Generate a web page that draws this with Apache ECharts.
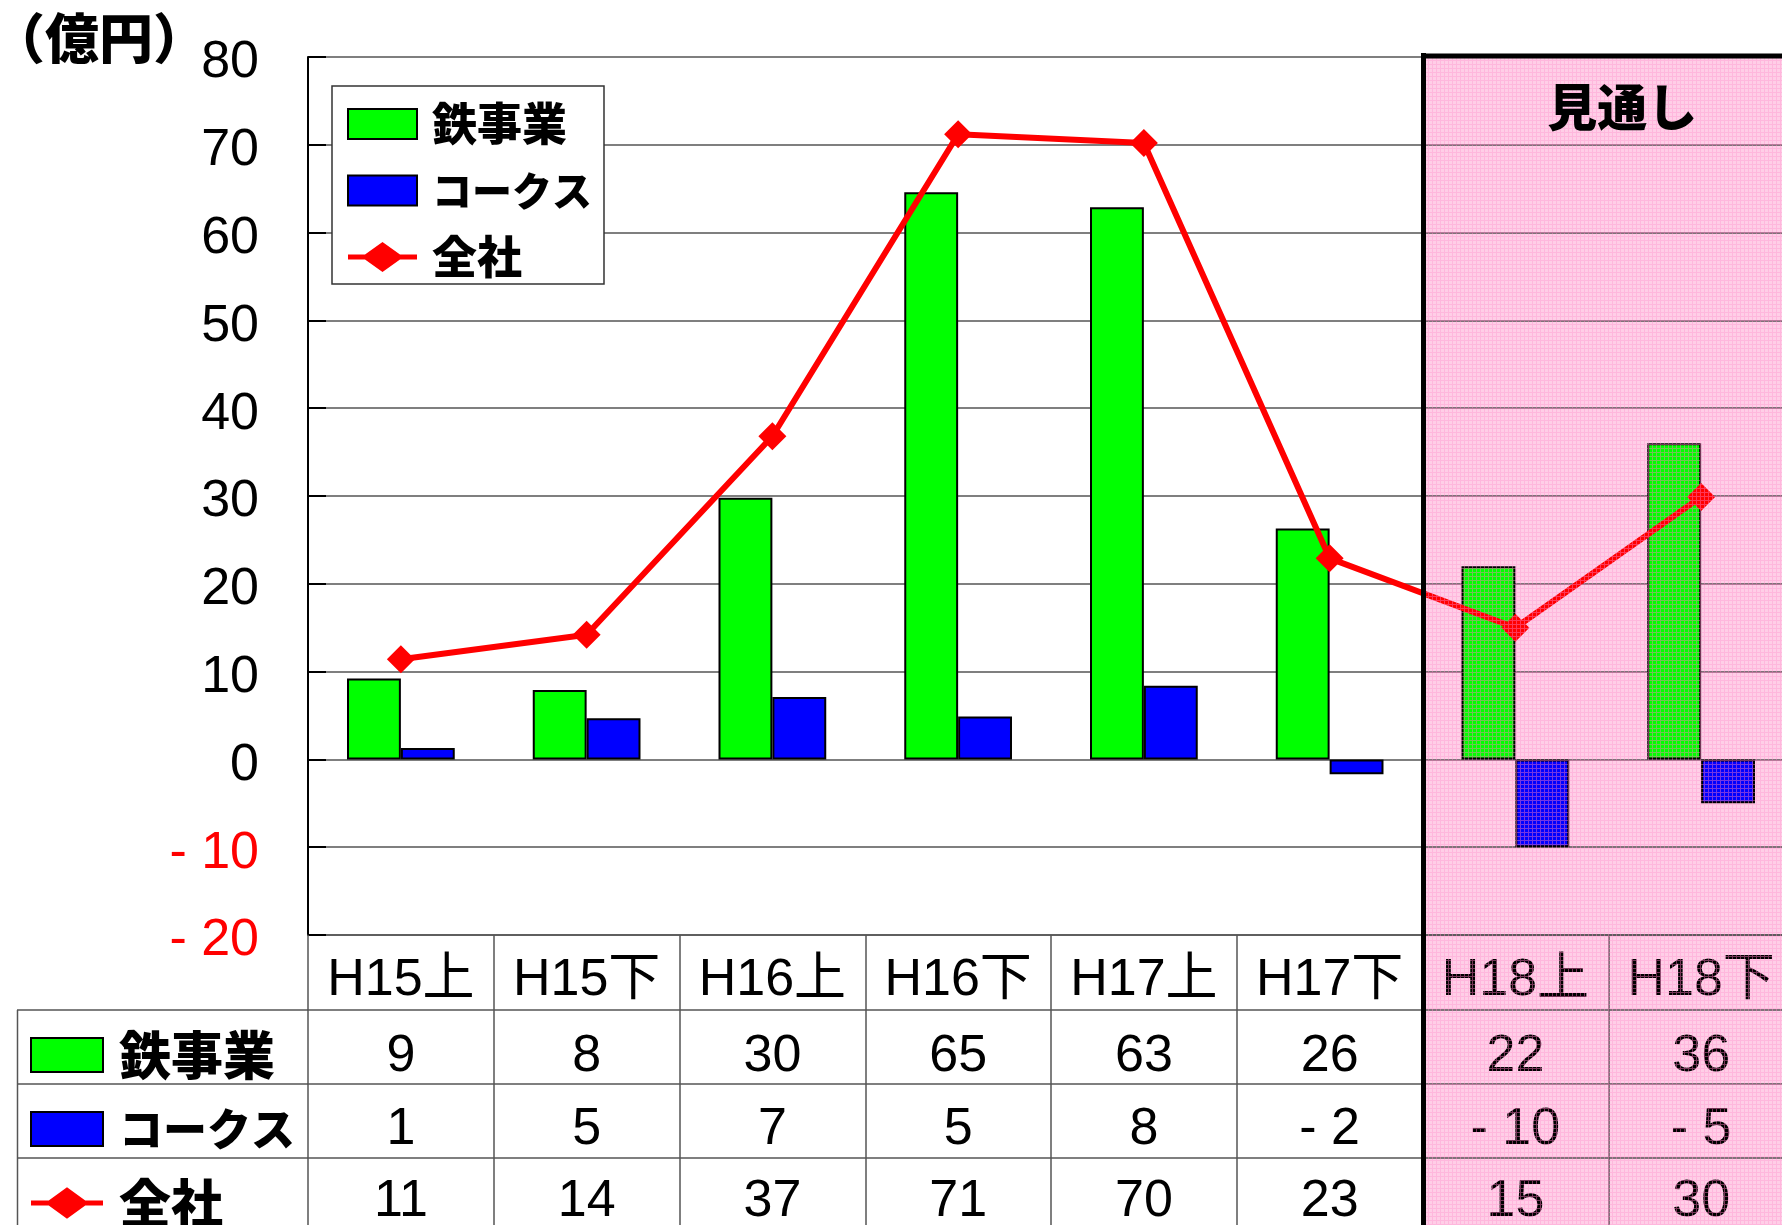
<!DOCTYPE html>
<html>
<head>
<meta charset="utf-8">
<script src="https://cdn.jsdelivr.net/npm/echarts@6/dist/echarts.min.js"></script>
<style>html,body{margin:0;padding:0;background:#fff}#main{width:1782px;height:1225px}</style>
</head>
<body>
<div id="main"></div>
<script>
// ---- data ----
const categories = ['H15上','H15下','H16上','H16下','H17上','H17下','H18上','H18下'];
const seriesNames = ['鉄事業','コークス','全社'];
const tetsu = [9.2, 7.9, 29.8, 64.6, 62.9, 26.3, 22, 36];
const coke = [1.3, 4.7, 7.1, 4.9, 8.4, -1.7, -10, -5];
const zensha = [11.4, 14.2, 36.8, 71.2, 70.2, 22.9, 15, 29.9];
const tetsuLabels = ['9','8','30','65','63','26','22','36'];
const cokeLabels = ['1','5','7','5','8','- 2','- 10','- 5'];
const zenshaLabels = ['11','14','37','71','70','23','15','30'];
const forecastFrom = 'H18上';
const unitLabel = '（億円）';
const forecastLabel = '見通し';

// ---- layout ----
const G = {left: 308, top: 57, width: 1486, height: 878};
const ROW = [75, 149, 223];
const LATIN = "'Liberation Sans', Arial, 'Noto Sans CJK JP'";
const CJK = "'Noto Sans CJK JP', 'Noto Sans CJK SC'";
const LINE = '#555';
const LINE_ICON = 'path://M0,12.5 L17,12.5 L34.5,0 L52,12.5 L69,12.5 L69,17.5 L52,17.5 L34.5,30 L17,17.5 L0,17.5 Z';

const chart = echarts.init(document.getElementById('main'));

function rowAxis(offset, labels, margin) {
  return {
    type: 'category', data: categories, gridIndex: 0, position: 'bottom', offset: offset,
    axisLine: {show: true, onZero: false, lineStyle: {color: LINE, width: 1.5}},
    axisTick: {show: false}, splitLine: {show: false},
    axisLabel: {interval: 0, margin: margin, fontSize: 52, fontFamily: LATIN, color: '#000',
      formatter: (v, i) => labels[i]}
  };
}

function legendData() {
  return [
    {name: seriesNames[0], icon: 'rect'},
    {name: seriesNames[1], icon: 'rect'},
    {name: seriesNames[2], icon: LINE_ICON, itemStyle: {color: '#ff0000', borderWidth: 0}}
  ];
}
const kanaFmt = name => (/[\u30A0-\u30FF]/.test(name) ? '{k|' + name + '}' : name);

const option = {
  animation: false,
  backgroundColor: '#fff',
  title: {text: unitLabel, left: -14, top: 6,
    textStyle: {fontSize: 54, fontWeight: 900, fontFamily: CJK, color: '#000'}},
  grid: {left: G.left, top: G.top, width: G.width, height: G.height, containLabel: false, outerBoundsMode: 'none'},
  legend: [{
    data: legendData(), orient: 'vertical', left: 332, top: 86, height: 400,
    padding: [15, 12, 4, 15], itemGap: 20.5, itemWidth: 69, itemHeight: 30,
    backgroundColor: '#fff', borderColor: '#333', borderWidth: 1.5,
    formatter: kanaFmt,
    textStyle: {fontSize: 45, lineHeight: 46, fontWeight: 900, fontFamily: CJK, color: '#000', padding: [0, 0, 0, 10],
      rich: {k: {fontSize: 40, lineHeight: 46, fontWeight: 900, fontFamily: CJK, color: '#000'}}}
  }, {
    data: legendData(), orient: 'vertical', left: 30, top: 1029, height: 400,
    padding: 0, itemGap: 22, itemWidth: 72, itemHeight: 34,
    formatter: kanaFmt,
    textStyle: {fontSize: 52, lineHeight: 52, fontWeight: 900, fontFamily: CJK, color: '#000', padding: [0, 0, 0, 11],
      rich: {k: {fontSize: 44, lineHeight: 52, fontWeight: 900, fontFamily: CJK, color: '#000'}}}
  }],
  xAxis: [{
    type: 'category', data: categories, gridIndex: 0, position: 'bottom',
    boundaryGap: true,
    axisLine: {show: true, onZero: false, lineStyle: {color: LINE, width: 1.5}},
    axisTick: {show: true, interval: 0, alignWithLabel: false, inside: false, length: 290,
      lineStyle: {color: LINE, width: 1.5}},
    splitLine: {show: false},
    axisLabel: {interval: 0, margin: 20, fontSize: 52, fontFamily: LATIN, color: '#000'}
  },
    rowAxis(ROW[0], tetsuLabels, 21),
    rowAxis(ROW[1], cokeLabels, 20),
    rowAxis(ROW[2], zenshaLabels, 18)
  ],
  yAxis: {
    type: 'value', min: -20, max: 80, interval: 10,
    axisLine: {show: true, onZero: false, lineStyle: {color: '#000', width: 2}},
    axisTick: {show: true, inside: true, length: 18, lineStyle: {color: '#000', width: 2}},
    splitLine: {show: true, lineStyle: {color: LINE, width: 1.5}},
    axisLabel: {margin: 49,
      formatter: v => (v < 0 ? '{neg|- ' + (-v) + '}' : '{pos|' + v + '}'),
      rich: {
        pos: {fontSize: 52, fontFamily: LATIN, color: '#000', padding: [12, 0, 0, 0]},
        neg: {fontSize: 52, fontFamily: LATIN, color: '#ff0000', padding: [12, 0, 0, 0]}
      }}
  },
  series: [{
    name: seriesNames[0], type: 'bar', data: tetsu, xAxisIndex: 0,
    barCategoryGap: '42%', barGap: '0%',
    itemStyle: {color: '#00ff00', borderColor: '#000', borderWidth: 2}, z: 2
  }, {
    name: seriesNames[1], type: 'bar', data: coke, xAxisIndex: 0,
    barCategoryGap: '42%', barGap: '0%',
    itemStyle: {color: '#0000ff', borderColor: '#000', borderWidth: 2}, z: 2
  }, {
    name: seriesNames[2], type: 'line', data: zensha, xAxisIndex: 0,
    symbol: 'diamond', symbolSize: 28,
    lineStyle: {color: '#ff0000', width: 6},
    itemStyle: {color: '#ff0000'}, z: 5
  }]
};
chart.setOption(option);

// ---- forecast shading patterns ----
function tile(size, base, line) {
  const c = document.createElement('canvas');
  c.width = size; c.height = size;
  const g = c.getContext('2d');
  if (base) { g.fillStyle = base; g.fillRect(0, 0, size, size); }
  g.clearRect(0, 0, size, 1); g.clearRect(0, 0, 1, size);
  g.fillStyle = line;
  g.fillRect(0, 0, size, 1); g.fillRect(0, 1, 1, size - 1);
  return c;
}
const bgTile = tile(4, 'rgb(255,206,231)', 'rgb(255,236,246)');
const fgTile = tile(4, null, 'rgba(255,120,190,0.45)');

const idx = categories.indexOf(forecastFrom);
const xPrev = chart.convertToPixel({xAxisIndex: 0}, categories[idx - 1]);
const xCur = chart.convertToPixel({xAxisIndex: 0}, categories[idx]);
const bx = (xPrev + xCur) / 2;
const topY = chart.convertToPixel({yAxisIndex: 0}, 80);
const botY = chart.convertToPixel({yAxisIndex: 0}, -20);
const H = 1225, W = 1782;

const graphics = [
  {type: 'rect', silent: true, z: -1,
    shape: {x: bx, y: topY - 2, width: W - bx + 20, height: H - topY + 2},
    style: {fill: {image: bgTile, repeat: 'repeat'}}},
  {type: 'rect', silent: true, z: 50,
    shape: {x: bx, y: topY - 2, width: W - bx + 20, height: H - topY + 2},
    style: {fill: {image: fgTile, repeat: 'repeat'}}},
  {type: 'line', silent: true, z: 60,
    shape: {x1: bx + 1, y1: topY - 4, x2: bx + 1, y2: H},
    style: {stroke: '#000', lineWidth: 5}},
  {type: 'line', silent: true, z: 60,
    shape: {x1: bx - 1, y1: topY - 1, x2: W + 5, y2: topY - 1},
    style: {stroke: '#000', lineWidth: 5}},
  {type: 'text', silent: true, z: 70,
    style: {text: forecastLabel, x: (bx + W) / 2 + 20, y: topY + 50, align: 'center', verticalAlign: 'middle',
      fontSize: 50, fontWeight: 900, fontFamily: CJK, fill: '#000'}},
  {type: 'line', silent: true, z: 10,
    shape: {x1: 17, y1: botY + ROW[0], x2: G.left, y2: botY + ROW[0]},
    style: {stroke: LINE, lineWidth: 1.5}},
  {type: 'line', silent: true, z: 10,
    shape: {x1: 17, y1: botY + ROW[1], x2: G.left, y2: botY + ROW[1]},
    style: {stroke: LINE, lineWidth: 1.5}},
  {type: 'line', silent: true, z: 10,
    shape: {x1: 17, y1: botY + ROW[2], x2: G.left, y2: botY + ROW[2]},
    style: {stroke: LINE, lineWidth: 1.5}},
  {type: 'line', silent: true, z: 10,
    shape: {x1: 17.5, y1: botY + ROW[0], x2: 17.5, y2: H},
    style: {stroke: LINE, lineWidth: 1.5}}
];
chart.setOption({graphic: graphics});
</script>
</body>
</html>
